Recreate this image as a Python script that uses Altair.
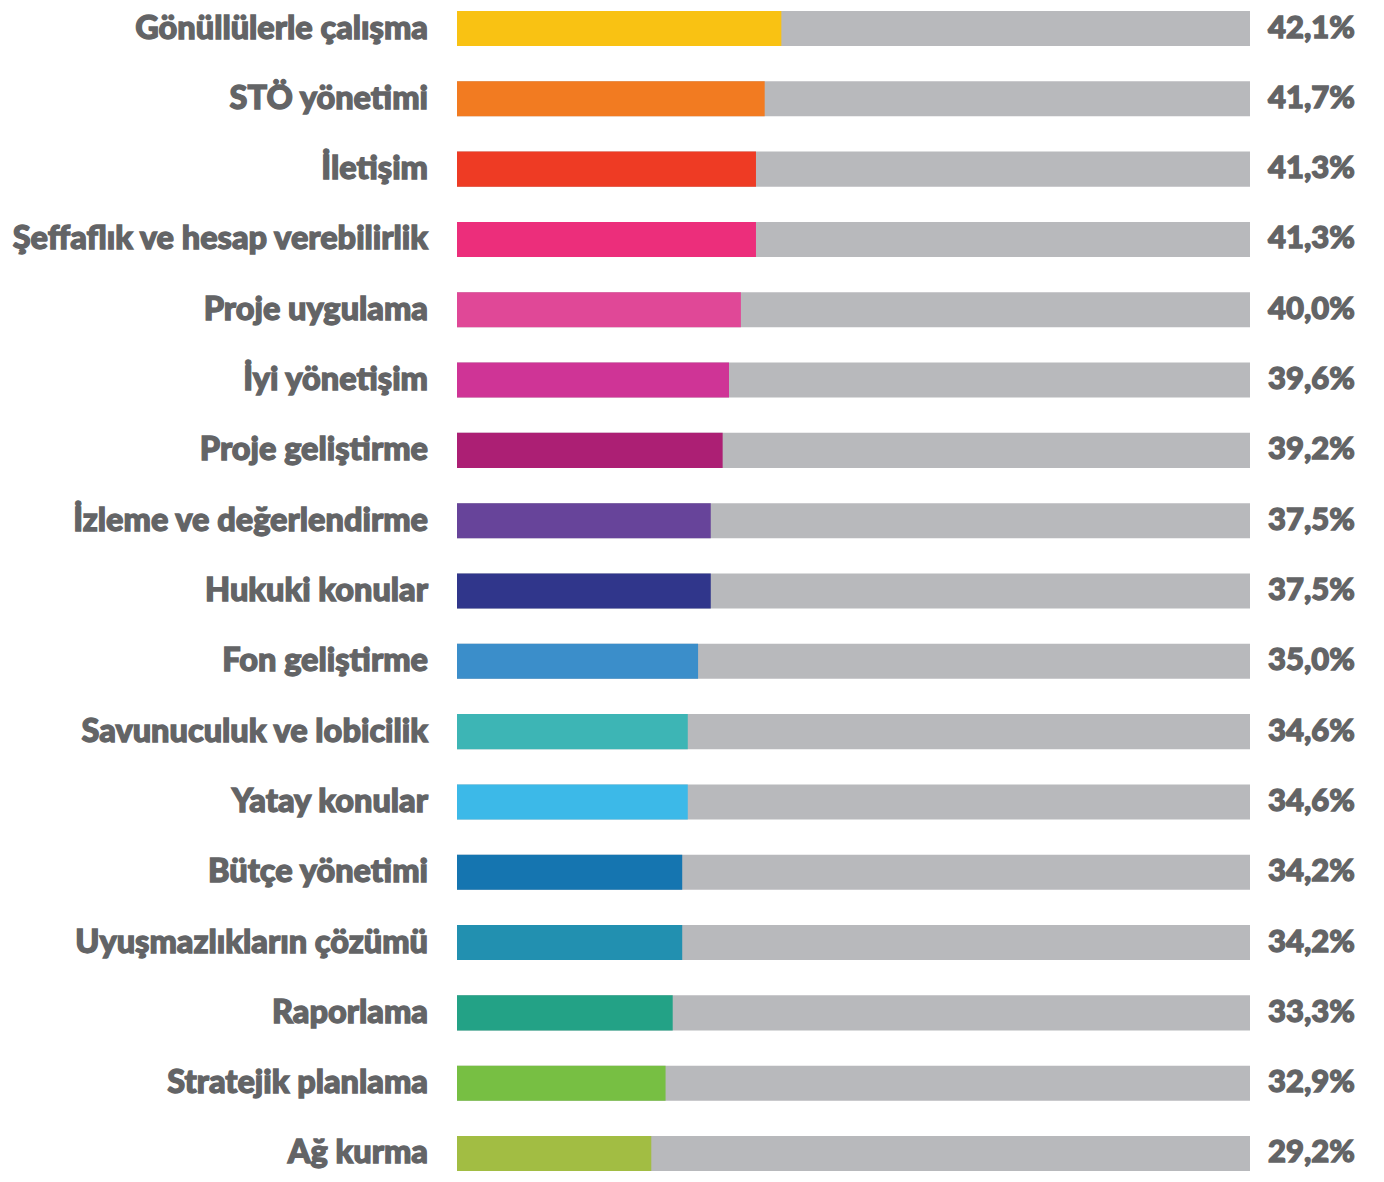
import altair as alt
import pandas as pd

categories = [
    "Gönüllülerle çalışma", "STÖ yönetimi", "İletişim",
    "Şeffaflık ve hesap verebilirlik", "Proje uygulama", "İyi yönetişim",
    "Proje geliştirme", "İzleme ve değerlendirme", "Hukuki konular",
    "Fon geliştirme", "Savunuculuk ve lobicilik", "Yatay konular",
    "Bütçe yönetimi", "Uyuşmazlıkların çözümü", "Raporlama",
    "Stratejik planlama", "Ağ kurma",
]
labels = ["42,1%", "41,7%", "41,3%", "41,3%", "40,0%", "39,6%", "39,2%",
          "37,5%", "37,5%", "35,0%", "34,6%", "34,6%", "34,2%", "34,2%",
          "33,3%", "32,9%", "29,2%"]
# length of the coloured fill as drawn, in % of the grey track
fill = [40.9, 38.8, 37.7, 37.7, 35.8, 34.3, 33.5, 32.0, 32.0, 30.4,
        29.1, 29.1, 28.4, 28.4, 27.2, 26.3, 24.5]
colors = ["#F9C213", "#F27B21", "#EE3B24", "#EC2E7B", "#E04897", "#CF3496",
          "#AC1F74", "#67449A", "#30368B", "#3B8ECA", "#3DB5B5", "#3CB9E8",
          "#1575B0", "#2290B0", "#23A286", "#77BF43", "#A2BD43"]
track = [100] * len(categories)
zero = [0] * len(categories)

df = pd.DataFrame({"cat": categories, "label": labels, "fill": fill,
                   "track": track, "zero": zero, "color": colors})

TEXT = "#636466"
FONT = "Lato"

y = alt.Y("cat:N", sort=categories, title=None,
          scale=alt.Scale(paddingInner=0.502, paddingOuter=0), axis=None)
xs = alt.Scale(domain=[0, 100], nice=False, zero=True)

base = alt.Chart(df)
bg = base.mark_bar(color="#B8B9BC").encode(
    x=alt.X("track:Q", scale=xs, axis=None), y=y)
fg = base.mark_bar().encode(
    x=alt.X("fill:Q", scale=xs, axis=None), y=y,
    color=alt.Color("color:N", scale=None))
cat_txt = base.mark_text(align="right", baseline="middle", dx=-29, font=FONT,
                         fontSize=32.5, fontWeight=900, color=TEXT,
                         stroke=TEXT, strokeWidth=1.3).encode(
    x=alt.X("zero:Q", scale=xs, axis=None), y=y, text="cat:N")
txt = base.mark_text(align="left", baseline="middle", dx=18, font=FONT,
                     fontSize=31, fontWeight=900, color=TEXT,
                     stroke=TEXT, strokeWidth=1.3).encode(
    x=alt.X("track:Q", scale=xs, axis=None), y=y, text="label:N")

chart = alt.layer(bg, fg, cat_txt, txt).properties(
    width=793, height=1160,
    autosize=alt.AutoSizeParams(type="none"),
    padding={"left": 449, "top": 3, "right": 120, "bottom": 0},
).configure_view(stroke=None)

chart.save("out.html", embed_options={"renderer": "svg", "actions": False})
